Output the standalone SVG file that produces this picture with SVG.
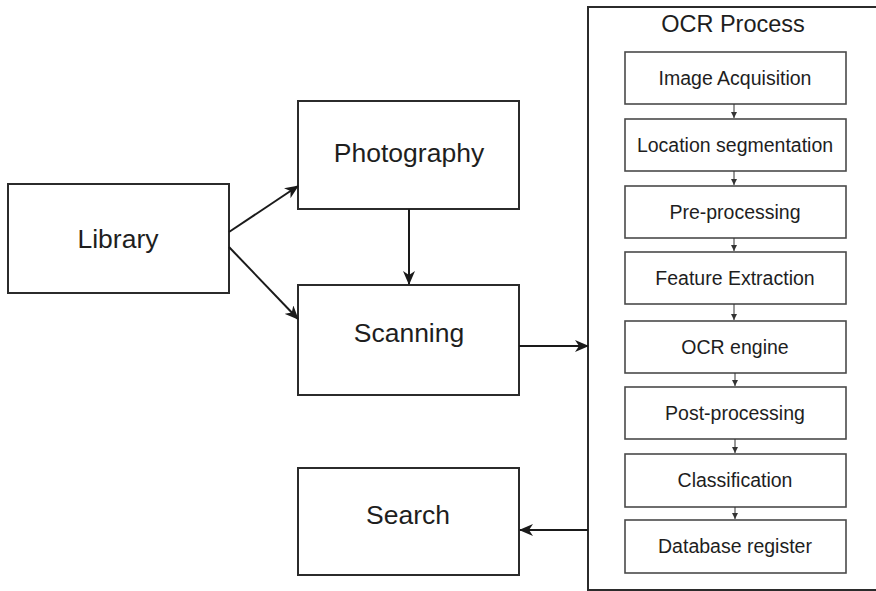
<svg xmlns="http://www.w3.org/2000/svg" width="876" height="591" viewBox="0 0 876 591">
<style>
.box{fill:#fff;stroke:#2b2b2b;stroke-width:2}
.ibox{fill:#fff;stroke:#4a4a4a;stroke-width:1.6}
.big{font-family:"Liberation Sans",Arial,sans-serif;font-size:26.5px;fill:#1e1e1e;text-anchor:middle}
.small{font-family:"Liberation Sans",Arial,sans-serif;font-size:19.5px;fill:#1e1e1e;text-anchor:middle}
.title{font-family:"Liberation Sans",Arial,sans-serif;font-size:23.5px;fill:#1e1e1e;text-anchor:middle}
.conn{fill:none;stroke:#1a1a1a;stroke-width:2}
.sconn{fill:none;stroke:#333;stroke-width:1}
</style>
<defs>
<marker id="ah" markerUnits="userSpaceOnUse" markerWidth="14" markerHeight="12" refX="13" refY="6" orient="auto">
<path d="M0,0 L14,6 L0,12 L4,6 Z" fill="#1a1a1a"/>
</marker>
<marker id="sah" markerUnits="userSpaceOnUse" markerWidth="6" markerHeight="6" refX="6" refY="3" orient="auto">
<path d="M0,0 L6,3 L0,6 Z" fill="#333"/>
</marker>
</defs>
<rect width="876" height="591" fill="#fff"/>
<g id="ocr-process">
<rect x="588" y="7" width="300" height="583" fill="#fff" stroke="#2b2b2b" stroke-width="2"/>
<text class="title" x="733" y="32">OCR Process</text>
</g>
<g id="library">
<rect class="box" x="8" y="184" width="221" height="109"/>
<text class="big" x="118" y="248">Library</text>
</g>
<g id="photography">
<rect class="box" x="298" y="101" width="221" height="108"/>
<text class="big" x="409" y="162">Photography</text>
</g>
<g id="scanning">
<rect class="box" x="298" y="285" width="221" height="110"/>
<text class="big" x="409" y="342">Scanning</text>
</g>
<g id="search">
<rect class="box" x="298" y="468" width="221" height="107"/>
<text class="big" x="408" y="524">Search</text>
</g>
<g id="image-acquisition">
<rect class="ibox" x="625" y="52" width="221" height="52"/>
<text class="small" x="735" y="85">Image Acquisition</text>
</g>
<g id="location-segmentation">
<rect class="ibox" x="625" y="119" width="221" height="52"/>
<text class="small" x="735" y="152">Location segmentation</text>
</g>
<g id="pre-processing">
<rect class="ibox" x="625" y="186" width="221" height="52"/>
<text class="small" x="735" y="219">Pre-processing</text>
</g>
<g id="feature-extraction">
<rect class="ibox" x="625" y="252" width="221" height="52"/>
<text class="small" x="735" y="285">Feature Extraction</text>
</g>
<g id="ocr-engine">
<rect class="ibox" x="625" y="321" width="221" height="52"/>
<text class="small" x="735" y="354">OCR engine</text>
</g>
<g id="post-processing">
<rect class="ibox" x="625" y="387" width="221" height="52"/>
<text class="small" x="735" y="420">Post-processing</text>
</g>
<g id="classification">
<rect class="ibox" x="625" y="454" width="221" height="53"/>
<text class="small" x="735" y="487">Classification</text>
</g>
<g id="database-register">
<rect class="ibox" x="625" y="520" width="221" height="53"/>
<text class="small" x="735" y="553">Database register</text>
</g>
<g id="connectors">
<line class="conn" x1="229" y1="232" x2="298" y2="186" marker-end="url(#ah)"/>
<line class="conn" x1="229" y1="247" x2="298" y2="319" marker-end="url(#ah)"/>
<line class="conn" x1="409" y1="209" x2="409" y2="284" marker-end="url(#ah)"/>
<line class="conn" x1="519" y1="346" x2="588" y2="346" marker-end="url(#ah)"/>
<line class="conn" x1="588" y1="530" x2="520" y2="530" stroke-width="1.5" marker-end="url(#ah)"/>
<line class="sconn" x1="734" y1="104" x2="734" y2="118" marker-end="url(#sah)"/>
<line class="sconn" x1="734" y1="171" x2="734" y2="185" marker-end="url(#sah)"/>
<line class="sconn" x1="734" y1="238" x2="734" y2="251" marker-end="url(#sah)"/>
<line class="sconn" x1="734" y1="304" x2="734" y2="320" marker-end="url(#sah)"/>
<line class="sconn" x1="735" y1="373" x2="735" y2="386" marker-end="url(#sah)"/>
<line class="sconn" x1="735" y1="439" x2="735" y2="453" marker-end="url(#sah)"/>
<line class="sconn" x1="735" y1="507" x2="735" y2="519" marker-end="url(#sah)"/>
</g>
</svg>
